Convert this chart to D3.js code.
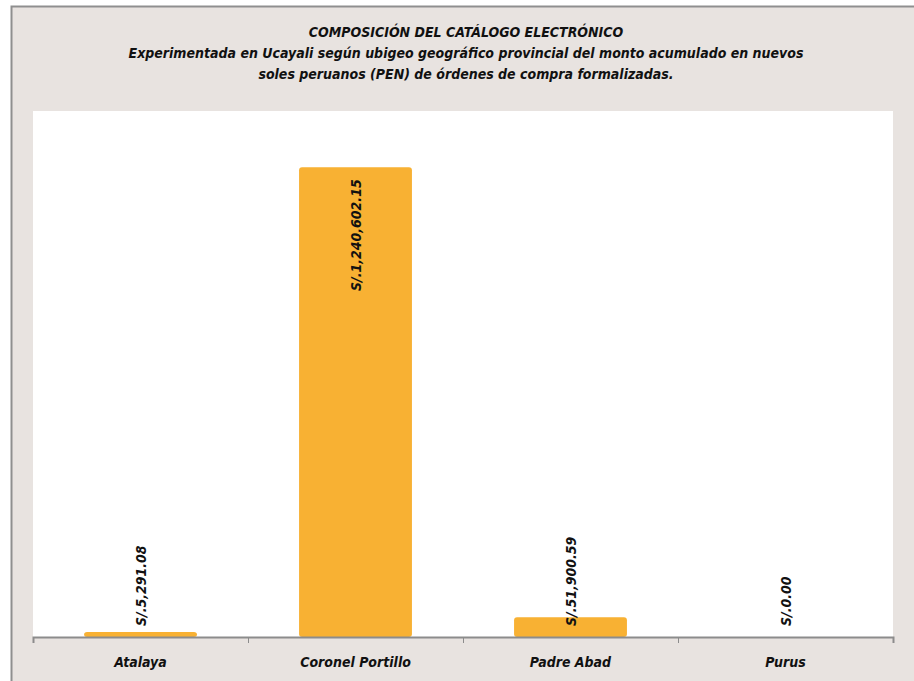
<!DOCTYPE html>
<html><head><meta charset="utf-8">
<script src="https://cdn.jsdelivr.net/npm/d3@7/dist/d3.min.js"></script>
<style>body{margin:0;background:#fff}svg{display:block}</style>
</head><body><svg id="c" width="914" height="681"></svg>
<script>
const categories = ["Atalaya", "Coronel Portillo", "Padre Abad", "Purus"];
const values = [5291.08, 1240602.15, 51900.59, 0.00];
const titleLines = [
  "COMPOSICIÓN DEL CATÁLOGO ELECTRÓNICO",
  "Experimentada en Ucayali según ubigeo geográfico provincial del monto acumulado en nuevos",
  "soles peruanos (PEN) de órdenes de compra formalizadas."
];

const svg = d3.select("#c");
const font = "'DejaVu Sans Condensed', 'DejaVu Sans', sans-serif";
svg.append("rect").attr("x",0).attr("y",0).attr("width",914).attr("height",681).attr("fill","#fff");
svg.append("rect").attr("x",11.5).attr("y",6.5).attr("width",920).attr("height",700)
  .attr("fill","#E8E3E0").attr("stroke","#8f8f8f").attr("stroke-width",2);

const plot = {l:33, r:893, t:111, b:637};
svg.append("rect").attr("x",plot.l).attr("y",plot.t).attr("width",plot.r-plot.l).attr("height",plot.b-plot.t).attr("fill","#fff");

const x = d3.scaleBand().domain(categories).range([plot.l, plot.r]).paddingInner(0.475).paddingOuter(0.2375);
const y = d3.scaleLinear().domain([0, 1400000]).range([plot.b, 107]);

const g = svg.append("g");
g.selectAll("rect.bar").data(values).join("rect").attr("class","bar")
  .attr("x",(d,i)=>x(categories[i]))
  .attr("width",x.bandwidth())
  .attr("y",d=>d>0 ? Math.min(y(d), plot.b-5) : plot.b)
  .attr("height",d=>d>0 ? Math.max(plot.b-y(d), 5) : 0)
  .attr("rx",3).attr("fill","#F8B133");

// axis
const xAxis = d3.axisBottom(d3.scaleLinear().domain([0,4]).range([plot.l, plot.r])).ticks(4).tickSize(6).tickFormat("");
const ax = svg.append("g").attr("transform",`translate(0,${plot.b})`).call(xAxis);
ax.select(".domain").attr("stroke","#8c8c8c").attr("stroke-width",2);
ax.selectAll(".tick line").attr("stroke","#8c8c8c").attr("stroke-width",1);

svg.selectAll("text.cat").data(categories).join("text").attr("class","cat")
  .attr("x",d=>x(d)+x.bandwidth()/2).attr("y",667)
  .attr("text-anchor","middle").attr("font-family",font).attr("font-size",14)
  .attr("font-style","italic").attr("font-weight","bold").attr("fill","#111").text(d=>d);

const fmt = v => "S/." + d3.format(",.2f")(v);
svg.selectAll("text.val").data(values).join("text").attr("class","val")
  .attr("transform",(d,i)=>{
    const cx = x(categories[i]) + x.bandwidth()/2 + 5;
    const big = d > 500000;
    const yy = big ? y(d) + 12 : plot.b - 11;
    return `translate(${cx},${yy}) rotate(-90)`;
  })
  .attr("text-anchor",d=>d>500000?"end":"start")
  .attr("font-family",font).attr("font-size",14)
  .attr("font-style","italic").attr("font-weight","bold").attr("fill","#111")
  .text(d=>fmt(d));

svg.selectAll("text.title").data(titleLines).join("text").attr("class","title")
  .attr("x",466).attr("y",(d,i)=>37+i*21)
  .attr("text-anchor","middle").attr("font-family",font).attr("font-size",14)
  .attr("font-style","italic").attr("font-weight","bold").attr("fill","#111").text(d=>d);
</script></body></html>
